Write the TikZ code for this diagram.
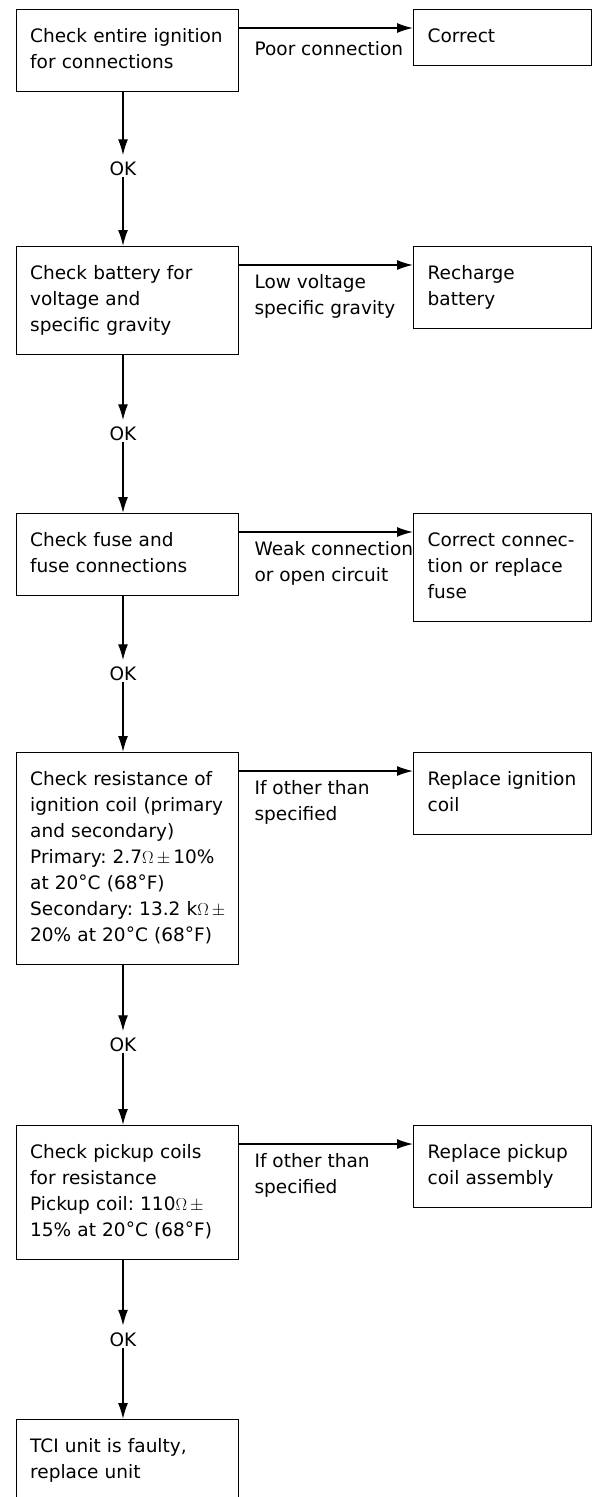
\documentclass[tikz,border=0pt]{standalone}
\usepackage{fontspec}
\setmainfont{DejaVu Sans}
\usetikzlibrary{arrows.meta,calc}
\newcommand{\degr}{\raisebox{0.1ex}{°}}
\begin{document}
\begin{tikzpicture}[x=1pt,y=-1pt,
  txt/.style={font=\fontsize{18.5}{26}\selectfont},
  box/.style={txt,draw,line width=1.4pt,anchor=north west,inner xsep=14pt,inner ysep=15pt,
    align=left,execute at begin node=\strut,execute at end node=\strut},
  lbox/.style={box,text width=194pt},
  rbox/.style={box,text width=150pt},
  lbl/.style={txt,anchor=north west,inner sep=0pt,align=left,execute at begin node=\strut},
  ok/.style={txt,inner sep=1pt,text height=13.5pt,text depth=0pt},
  arr/.style={line width=1.4pt,-{Latex[length=16pt,width=10pt]}}]
\fill[white] (0,0) rectangle (594,1497);
\useasboundingbox (0,0) rectangle (594,1497);

% left column
\node[lbox] (b1) at (15.5,9) {Check entire ignition\\for connections};
\node[lbox] (b2) at (15.5,246) {Check battery for\\voltage and\\specific gravity};
\node[lbox] (b3) at (15.5,513) {Check fuse and\\fuse connections};
\node[lbox] (b4) at (15.5,752) {Check resistance of\\ignition~coil~(primary\\and secondary)\\Primary:~2.7$\Omega$\,$\pm$\,10\%\\at 20\degr C (68\degr F)\\Secondary:~13.2~k$\Omega$\,$\pm$\\20\% at 20\degr C (68\degr F)};
\node[lbox] (b5) at (15.5,1125) {Check pickup coils\\for resistance\\Pickup~coil:~110$\Omega$\,$\pm$\\15\%~at~20\degr C~(68\degr F)};
\node[lbox] (b6) at (15.5,1419) {TCI unit is faulty,\\replace unit};

% right column
\node[rbox] (r1) at (413,9) {Correct};
\node[rbox] (r2) at (413,246) {Recharge\\battery};
\node[rbox] (r3) at (413,513) {Correct connec-\\tion or replace\\fuse};
\node[rbox] (r4) at (413,752) {Replace ignition\\coil};
\node[rbox] (r5) at (413,1125) {Replace pickup\\coil assembly};

% horizontal arrows and labels
\foreach \i in {1,...,5}{
  \draw[arr] ([yshift=-19pt]b\i.north east) -- ([yshift=-19pt]r\i.north west);
}
\node[lbl] (l1) at ([xshift=15.5pt,yshift=-28pt]b1.north east) {Poor connection};
\node[lbl] (l2) at ([xshift=15.5pt,yshift=-28pt]b2.north east) {Low voltage\\specific gravity};
\node[lbl] (l3) at ([xshift=15.5pt,yshift=-28pt]b3.north east) {Weak connection\\or open circuit};
\node[lbl] (l4) at ([xshift=15.5pt,yshift=-28pt]b4.north east) {If other than\\specified};
\node[lbl] (l5) at ([xshift=15.5pt,yshift=-28pt]b5.north east) {If other than\\specified};

% vertical arrows with OK
\foreach \i/\j in {1/2,2/3,3/4,4/5,5/6}{
  \node[ok] (o\i) at ($([xshift=107.5pt]b\i.south west)!0.5!([xshift=107.5pt]b\j.north west)$) {OK};
  \draw[arr] ([xshift=107.5pt]b\i.south west) -- ([yshift=6pt]o\i.north);
  \draw[arr] (o\i.south) -- ([xshift=107.5pt]b\j.north west);
}
\end{tikzpicture}
\end{document}
